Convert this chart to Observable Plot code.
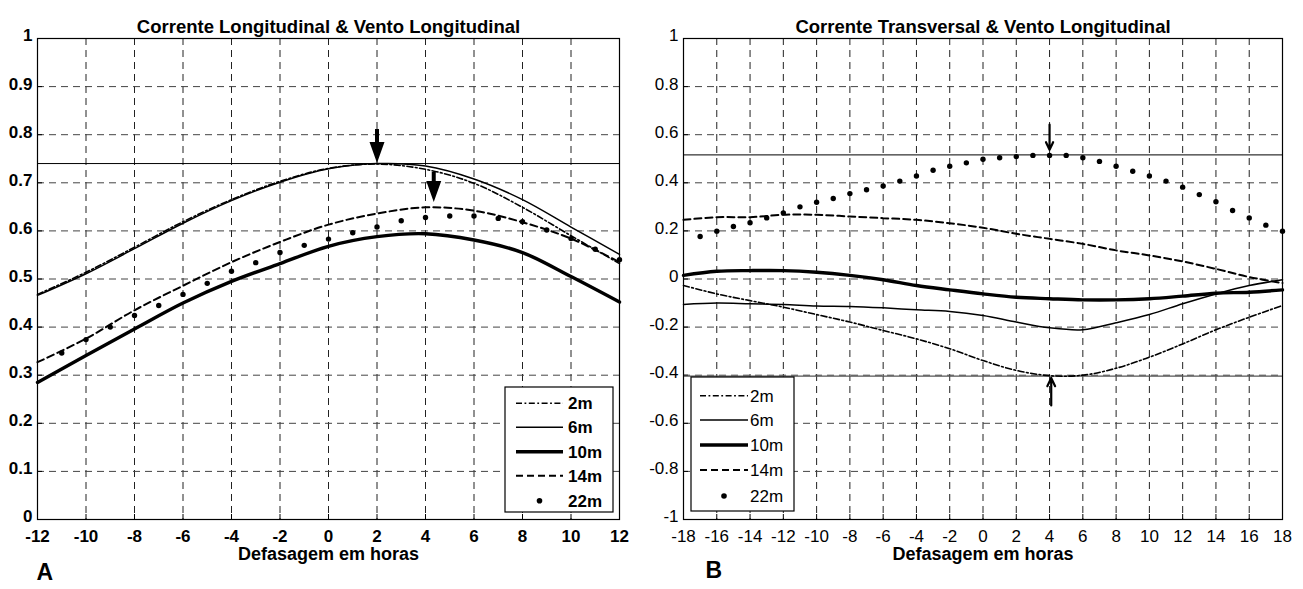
<!DOCTYPE html>
<html><head><meta charset="utf-8">
<script src="https://cdn.jsdelivr.net/npm/d3@7"></script>
<script src="https://cdn.jsdelivr.net/npm/@observablehq/plot@0.6"></script>
<style>
html,body{margin:0;padding:0;background:#fff;}
#wrap{position:relative;width:1303px;height:589px;overflow:hidden;background:#fff;}
#wrap svg{position:absolute;top:0;}
</style></head><body><div id="wrap"></div>
<script>
// ---------- Panel A data ----------
const titleA = "Corrente Longitudinal & Vento Longitudinal";
const titleB = "Corrente Transversal & Vento Longitudinal";
const xLabel = "Defasagem em horas";
const depths = ["2m", "6m", "10m", "14m", "22m"];

const xTicksA = [-12, -10, -8, -6, -4, -2, 0, 2, 4, 6, 8, 10, 12];
const yTicksA = [0, 0.1, 0.2, 0.3, 0.4, 0.5, 0.6, 0.7, 0.8, 0.9, 1];
const hoursA = [-12, -10, -8, -6, -4, -2, 0, 2, 4, 6, 8, 10, 12];
const a2m  = [0.468, 0.514, 0.566, 0.619, 0.665, 0.703, 0.730, 0.739, 0.728, 0.699, 0.649, 0.590, 0.532];
const a6m  = [0.466, 0.511, 0.563, 0.616, 0.663, 0.701, 0.729, 0.740, 0.735, 0.708, 0.665, 0.608, 0.551];
const a10m = [0.285, 0.341, 0.396, 0.450, 0.495, 0.532, 0.568, 0.588, 0.594, 0.581, 0.555, 0.505, 0.452];
const a14m = [0.327, 0.376, 0.435, 0.486, 0.535, 0.577, 0.613, 0.636, 0.649, 0.642, 0.618, 0.584, 0.535];
const hoursA22 = [-11, -10, -9, -8, -7, -6, -5, -4, -3, -2, -1, 0, 1, 2, 3, 4, 5, 6, 7, 8, 9, 10, 11, 12];
const a22m = [0.346, 0.374, 0.400, 0.424, 0.445, 0.468, 0.491, 0.516, 0.534, 0.555, 0.570, 0.583, 0.596, 0.608, 0.621, 0.628, 0.631, 0.631, 0.626, 0.619, 0.602, 0.584, 0.562, 0.540];
const refA = [0.74];
const arrowsA = [{x: 2, y: 0.741, len: 34}, {x: 4.34, y: 0.66, len: 30}];

// ---------- Panel B data ----------
const xTicksB = [-18, -16, -14, -12, -10, -8, -6, -4, -2, 0, 2, 4, 6, 8, 10, 12, 14, 16, 18];
const yTicksB = [-1, -0.8, -0.6, -0.4, -0.2, 0, 0.2, 0.4, 0.6, 0.8, 1];
const hoursB = [-18, -16, -14, -12, -10, -8, -6, -4, -2, 0, 2, 4, 6, 8, 10, 12, 14, 16, 18];
const b2m  = [-0.027, -0.062, -0.090, -0.117, -0.148, -0.179, -0.214, -0.249, -0.290, -0.339, -0.380, -0.402, -0.400, -0.371, -0.325, -0.270, -0.211, -0.159, -0.110];
const b6m  = [-0.106, -0.100, -0.103, -0.106, -0.112, -0.114, -0.120, -0.128, -0.135, -0.152, -0.179, -0.203, -0.211, -0.182, -0.148, -0.103, -0.062, -0.027, -0.003];
const b10m = [0.015, 0.032, 0.035, 0.035, 0.028, 0.015, -0.003, -0.027, -0.045, -0.062, -0.076, -0.082, -0.087, -0.087, -0.082, -0.071, -0.059, -0.055, -0.045];
const b14m = [0.246, 0.257, 0.257, 0.267, 0.267, 0.260, 0.253, 0.246, 0.232, 0.213, 0.188, 0.167, 0.146, 0.119, 0.098, 0.073, 0.042, 0.008, -0.017];
const hoursB22 = [-17, -16, -15, -14, -13, -12, -11, -10, -9, -8, -7, -6, -5, -4, -3, -2, -1, 0, 1, 2, 3, 4, 5, 6, 7, 8, 9, 10, 11, 12, 13, 14, 15, 16, 17, 18];
const b22m = [0.177, 0.199, 0.218, 0.234, 0.254, 0.275, 0.300, 0.319, 0.335, 0.355, 0.371, 0.387, 0.407, 0.428, 0.452, 0.469, 0.483, 0.498, 0.504, 0.509, 0.514, 0.514, 0.514, 0.504, 0.489, 0.469, 0.448, 0.428, 0.407, 0.382, 0.351, 0.321, 0.285, 0.254, 0.224, 0.199];
const refB = [0.516];
const refB2 = [-0.404];
const arrowsB = [{x1: 4, y1: 0.642, x2: 4, y2: 0.537}, {x1: 4.1, y1: -0.526, x2: 4.1, y2: -0.411}];

// ---------- styles ----------
const FONT = "'Liberation Sans', Arial, Helvetica, sans-serif";
const lineStyles = [
  {strokeWidth: 1.6, dash: "6,2.5,1.8,2.5"},
  {strokeWidth: 1.5, dash: null},
  {strokeWidth: 3.4, dash: null},
  {strokeWidth: 2, dash: "7,4"},
  null
];
const fmt = d => String(Math.round(d * 10) / 10);
const rows = (xs, vs) => xs.map((h, i) => ({h, v: vs[i]}));
const filledHead = {
  draw(ctx, l) {
    const hl = 21, hw = 7.5, sw = 2;
    ctx.moveTo(-sw, 0); ctx.lineTo(-sw, -(l - hl)); ctx.lineTo(-hw, -(l - hl));
    ctx.lineTo(0, -l); ctx.lineTo(hw, -(l - hl)); ctx.lineTo(sw, -(l - hl)); ctx.lineTo(sw, 0);
    ctx.closePath();
  }
};

function seriesMarks(hours, series, hours22, s22) {
  const m = [];
  series.forEach((vals, i) => {
    const st = lineStyles[i];
    m.push(Plot.line(rows(hours, vals), {x: "h", y: "v", curve: "catmull-rom", stroke: "black",
      strokeWidth: st.strokeWidth, strokeDasharray: st.dash || undefined}));
  });
  m.push(Plot.dot(rows(hours22, s22), {x: "h", y: "v", r: 2.7, fill: "black", stroke: null}));
  return m;
}

function legend(svg, box, rowsY, lx1, lx2, tx, fs, fw) {
  const g = d3.select(svg).append("g").attr("text-anchor", "start");
  g.append("rect").attr("x", box[0]).attr("y", box[1]).attr("width", box[2]).attr("height", box[3])
    .attr("fill", "white").attr("stroke", "black").attr("stroke-width", 1.2);
  depths.forEach((d, i) => {
    const st = lineStyles[i];
    if (st) {
      g.append("line").attr("x1", lx1).attr("x2", lx2).attr("y1", rowsY[i]).attr("y2", rowsY[i])
        .attr("stroke", "black").attr("stroke-width", st.strokeWidth)
        .attr("stroke-dasharray", st.dash);
    } else {
      g.append("circle").attr("cx", (lx1 + lx2) / 2).attr("cy", rowsY[i]).attr("r", 2.8).attr("fill", "black");
    }
    g.append("text").attr("x", tx).attr("y", rowsY[i]).attr("dy", "0.36em").attr("text-anchor", "start")
      .attr("font-size", fs).attr("font-weight", fw).attr("font-family", FONT).text(d);
  });
}

// ---------- Panel A ----------
const plotA = Plot.plot({
  width: 660, height: 589, marginTop: 38, marginBottom: 70, marginLeft: 37, marginRight: 41,
  style: {fontFamily: FONT, fontSize: "17px", fontWeight: "bold", background: "transparent", color: "black", overflow: "visible"},
  x: {domain: [-12, 12]},
  y: {domain: [0, 1]},
  marks: [
    Plot.gridX(xTicksA.slice(1, -1), {stroke: "#222", strokeOpacity: 1, strokeDasharray: "7,5"}),
    Plot.gridY(yTicksA.slice(1, -1), {stroke: "#444", strokeOpacity: 1, strokeDasharray: "7,5"}),
    Plot.ruleX(xTicksA, {insetTop: 476, stroke: "black"}),
    Plot.ruleY(yTicksA, {insetRight: 577, stroke: "black"}),
    Plot.axisX(xTicksA, {tickSize: 0, tickPadding: 10, tickFormat: fmt, label: null}),
    Plot.axisY(yTicksA, {tickSize: 0, tickPadding: 5, dy: -2.5, tickFormat: fmt, label: null}),
    Plot.ruleY(refA, {stroke: "black", strokeWidth: 1}),
    ...seriesMarks(hoursA, [a2m, a6m, a10m, a14m], hoursA22, a22m),
    Plot.vector(arrowsA.slice(0, 1), {x: "x", y: "y", rotate: 180, anchor: "end", length: arrowsA[0].len, shape: filledHead, fill: "black", stroke: null}),
    Plot.vector(arrowsA.slice(1, 2), {x: "x", y: "y", rotate: 180, anchor: "end", length: arrowsA[1].len, shape: filledHead, fill: "black", stroke: null}),
    Plot.frame({stroke: "black", strokeWidth: 1.2}),
    Plot.text([titleA], {text: d => d, frameAnchor: "top", dy: -19, fontSize: 18.5, fontWeight: "bold"}),
    Plot.text([xLabel], {text: d => d, frameAnchor: "bottom", dy: 40, fontSize: 18, fontWeight: "bold"}),
    Plot.text(["A"], {text: d => d, frameAnchor: "bottom-left", textAnchor: "start", dx: -1, dy: 60, fontSize: 23, fontWeight: "bold"})
  ]
});
plotA.style.left = "0px";
legend(plotA, [505, 387, 108, 125], [403.3, 427.3, 451.7, 475.7, 500.7], 516, 563, 568, 17, "bold");

// ---------- Panel B ----------
const plotB = Plot.plot({
  width: 653, height: 589, marginTop: 38, marginBottom: 70, marginLeft: 33, marginRight: 21,
  style: {fontFamily: FONT, fontSize: "17px", fontWeight: "normal", background: "transparent", color: "black", overflow: "visible"},
  x: {domain: [-18, 18]},
  y: {domain: [-1, 1]},
  marks: [
    Plot.gridX(xTicksB.slice(1, -1), {stroke: "#222", strokeOpacity: 1, strokeDasharray: "7,5"}),
    Plot.gridY(yTicksB.slice(1, -1), {stroke: "#444", strokeOpacity: 1, strokeDasharray: "7,5"}),
    Plot.ruleX(xTicksB, {insetTop: 476, stroke: "black"}),
    Plot.ruleY(yTicksB, {insetRight: 594, stroke: "black"}),
    Plot.axisX(xTicksB, {tickSize: 0, tickPadding: 10, tickFormat: fmt, label: null}),
    Plot.axisY(yTicksB, {tickSize: 0, tickPadding: 5, dy: -2.5, tickFormat: fmt, label: null}),
    Plot.ruleY(refB, {stroke: "black", strokeWidth: 1}),
    Plot.ruleY(refB2, {stroke: "#555", strokeWidth: 1.2}),
    ...seriesMarks(hoursB, [b2m, b6m, b10m, b14m], hoursB22, b22m),
    Plot.arrow(arrowsB, {x1: "x1", y1: "y1", x2: "x2", y2: "y2", stroke: "black", strokeWidth: 2.2, headLength: 12, headAngle: 50}),
    Plot.frame({stroke: "black", strokeWidth: 1.2}),
    Plot.text([titleB], {text: d => d, frameAnchor: "top", dy: -19, fontSize: 18.5, fontWeight: "bold"}),
    Plot.text([xLabel], {text: d => d, frameAnchor: "bottom", dy: 40, fontSize: 18, fontWeight: "bold"}),
    Plot.text(["B"], {text: d => d, frameAnchor: "bottom-left", textAnchor: "start", dx: 22, dy: 58, fontSize: 23, fontWeight: "bold"})
  ]
});
plotB.style.left = "650px";
legend(plotB, [41, 377, 103, 134], [395.7, 420, 445, 470, 496], 50, 98, 100, 17, "normal");

document.getElementById("wrap").append(plotA, plotB);
</script></body></html>
